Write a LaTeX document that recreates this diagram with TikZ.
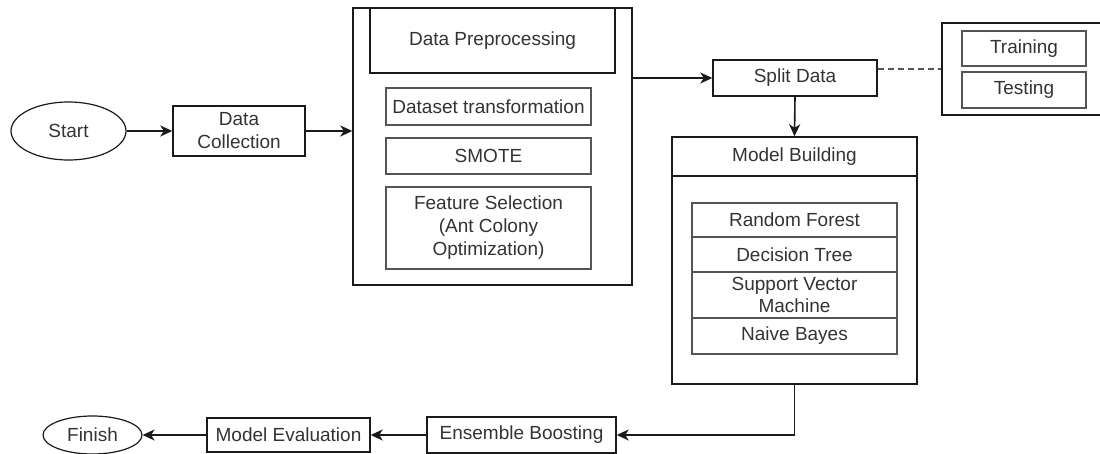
\documentclass[tikz,border=0pt]{standalone}
\usepackage{fontspec}
\setmainfont{Liberation Sans}
\usetikzlibrary{shapes.geometric,arrows.meta,calc}
\definecolor{txt}{HTML}{333333}
\definecolor{lnout}{HTML}{1A1A1A}
\definecolor{lnin}{HTML}{555555}
\begin{document}
\begin{tikzpicture}[x=1pt,y=-1pt,
  every node/.style={font=\fontsize{19}{23}\selectfont, text=txt, inner sep=0pt, align=center},
  outbox/.style={draw=lnout, line width=1.4pt, rectangle},
  inbox/.style={draw=lnin, line width=1.7pt, rectangle},
  oval/.style={draw=lnout, line width=1.2pt, ellipse},
  conn/.style={draw=lnout, line width=1.6pt, -{Stealth[length=12pt,width=11pt,inset=3.5pt]}},
  plain/.style={draw=lnout, line width=1.6pt}]
\useasboundingbox (0,0) rectangle (1100,454);
% left column
\node[oval, minimum width=115pt, minimum height=58pt] (start) at (68.5,131) {Start};
\node[outbox, minimum width=132pt, minimum height=50pt] (collect) at (239,131) {Data\\Collection};
% preprocessing
\node[outbox, minimum width=279pt, minimum height=277pt] (pre) at (492.5,146.5) {};
\node[outbox, minimum width=245pt, minimum height=65pt] (prehead) at (492.5,40.5) {Data Preprocessing};
\node[inbox, minimum width=205pt, minimum height=37pt] (trans) at (488.5,106.5) {Dataset transformation};
\node[inbox, minimum width=205pt, minimum height=36pt] (smote) at (488.5,156) {SMOTE};
\node[inbox, minimum width=205pt, minimum height=82pt] (feat) at (488.5,228) {Feature Selection\\(Ant Colony\\Optimization)};
% split
\node[outbox, minimum width=164pt, minimum height=36pt] (split) at (795,78) {Split Data};
\node[outbox, minimum width=178pt, minimum height=92pt] (tt) at (1031,69) {};
\node[inbox, minimum width=124pt, minimum height=35pt] (train) at (1024,48.5) {Training};
\node[inbox, minimum width=124pt, minimum height=36pt] (test) at (1024,90) {Testing};
% model building
\node[outbox, minimum width=245pt, minimum height=247pt] (mb) at (794.5,260.5) {};
\node[outbox, minimum width=245pt, minimum height=39pt] (mbhead) at (794.5,156.5) {Model Building};
\node[inbox, minimum width=205pt, minimum height=34pt] (rf) at (794.5,220) {Random Forest};
\node[inbox, minimum width=205pt, minimum height=35pt] (dt) at (794.5,254.5) {Decision Tree};
\node[inbox, minimum width=205pt, minimum height=46pt, font=\fontsize{19}{22}\selectfont] (svm) at (794.5,295) {Support Vector\\Machine};
\node[inbox, minimum width=205pt, minimum height=36pt] (nb) at (794.5,336) {Naive Bayes};
% bottom row
\node[outbox, minimum width=189pt, minimum height=36pt] (ens) at (521.5,435) {Ensemble Boosting};
\node[outbox, minimum width=163pt, minimum height=34pt] (eval) at (288.5,435) {Model Evaluation};
\node[oval, minimum width=99pt, minimum height=38pt] (finish) at (92.5,435) {Finish};
\coordinate (turn) at (mb.south |- ens.east);
% connectors
\draw[conn] (start.east) -- (start.east -| collect.west);
\draw[conn] (collect.east) -- (collect.east -| pre.west);
\draw[conn] (pre.east |- split.west) -- (split.west);
\draw[plain, dash pattern=on 6pt off 4pt, draw=lnin] (split.east |- tt.west) -- (tt.west);
\draw[conn] (split.south) -- (mbhead.north);
\draw[conn] (mb.south) -- (turn) -- (ens.east);
\draw[conn] (ens.west) -- (ens.west -| eval.east);
\draw[conn] (eval.west) -- (eval.west -| finish.east);
\end{tikzpicture}
\end{document}
